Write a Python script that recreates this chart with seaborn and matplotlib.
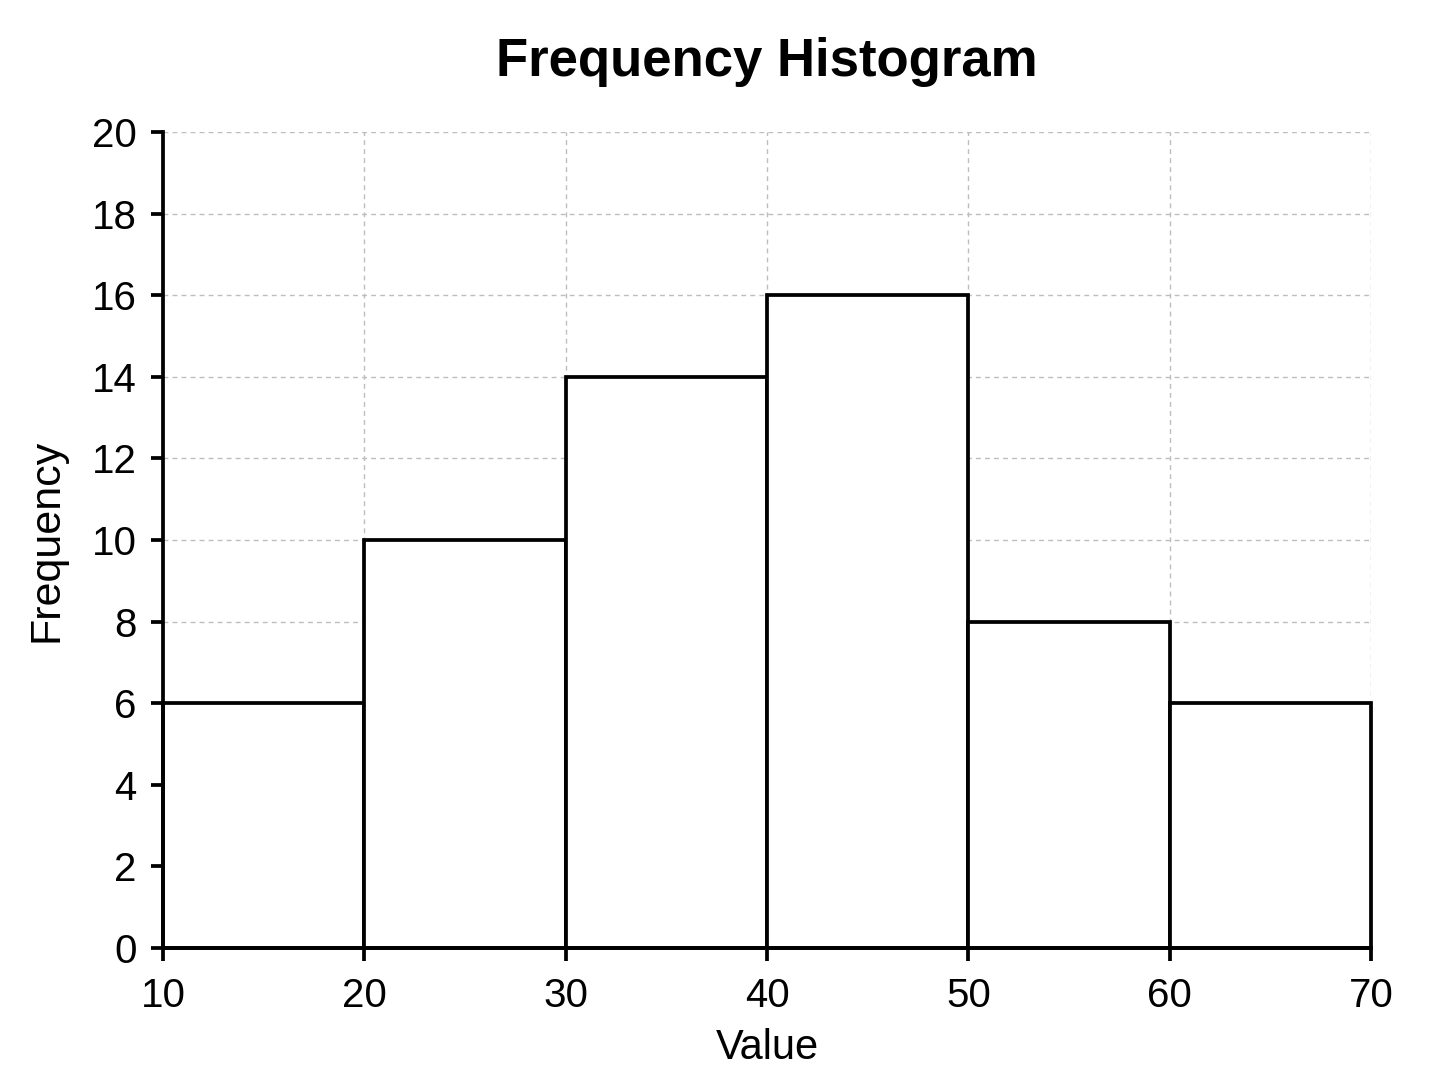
import numpy as np
import pandas as pd
import matplotlib
matplotlib.use("Agg")
import matplotlib.pyplot as plt
import seaborn as sns

# bin edges and counts
bin_edges = [10, 20, 30, 40, 50, 60, 70]
counts = [6, 10, 14, 16, 8, 6]
y_ticks = [0, 2, 4, 6, 8, 10, 12, 14, 16, 18, 20]

sns.set_style("white")
plt.rcParams['font.family'] = ['Liberation Sans', 'DejaVu Sans']

centers = [(a + b) / 2 for a, b in zip(bin_edges[:-1], bin_edges[1:])]
df = pd.DataFrame({"value": centers, "count": counts})

fig = plt.figure(figsize=(14.48, 10.86), dpi=100)
ax = fig.add_axes([0.1126, 0.1271, 0.8343, 0.7514])

sns.histplot(data=df, x="value", weights="count", bins=bin_edges,
             color="white", edgecolor="black", linewidth=2.7, alpha=1, ax=ax)
for p in ax.patches:
    p.set_clip_on(False)

ax.set_xlim(10, 70)
ax.set_ylim(0, 20)
ax.set_xticks(bin_edges)
ax.set_yticks(y_ticks)
ax.set_axisbelow(True)
ax.grid(True, linestyle=(0, (3.5, 3)), color="#bdbdbd", linewidth=1)

for s in ["top", "right"]:
    ax.spines[s].set_visible(False)
for s in ["left", "bottom"]:
    ax.spines[s].set_linewidth(2.7)
    ax.spines[s].set_color("black")

ax.tick_params(axis="both", direction="out", length=9, width=2.7,
               labelsize=29, colors="black")
ax.tick_params(axis="x", pad=12)
ax.tick_params(axis="y", pad=10)
ax.tick_params(left=True, bottom=True)

ax.set_xlabel("Value", fontsize=30, labelpad=9, color="black")
ax.set_ylabel("Frequency", fontsize=31, labelpad=18, color="black")
ax.set_title("Frequency Histogram", fontsize=38, fontweight="bold",
             pad=40, color="black")

fig.savefig("out.png", dpi=100, facecolor="white")
